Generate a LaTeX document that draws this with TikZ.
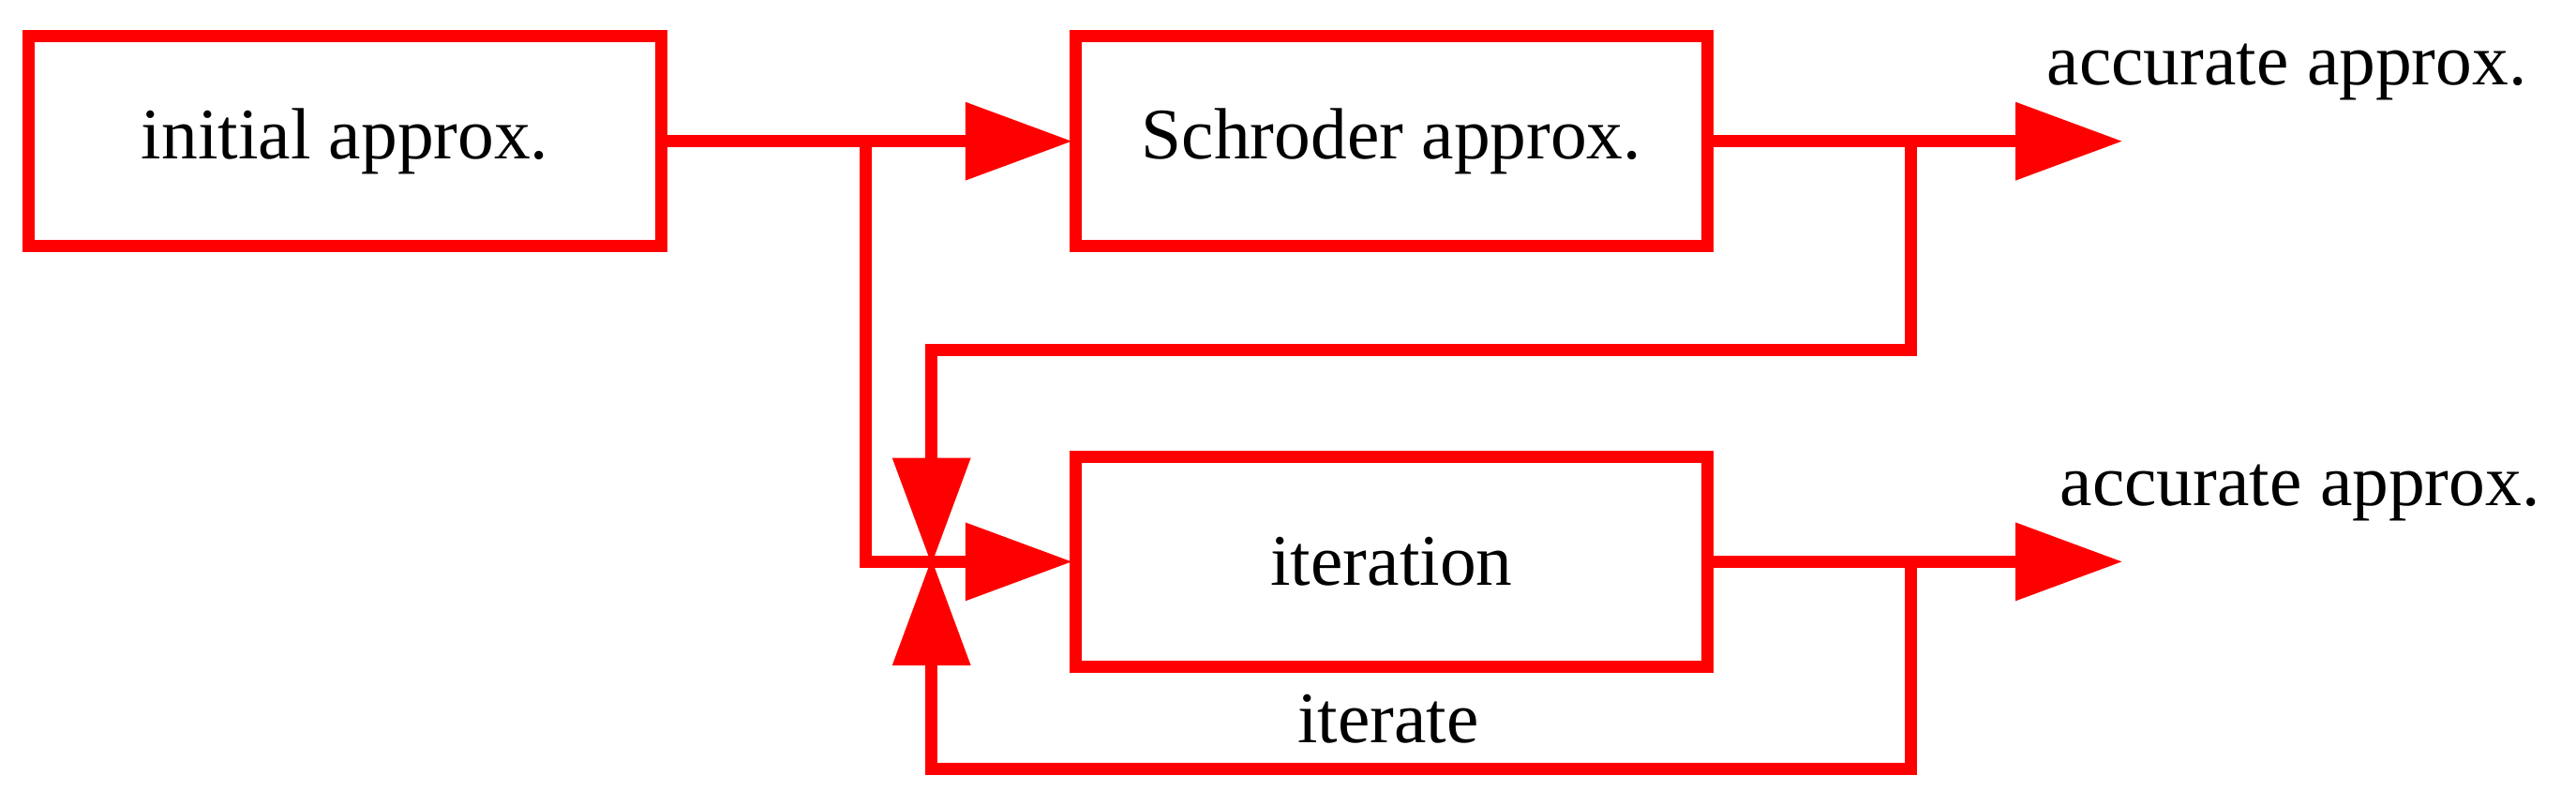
\documentclass[tikz,border=0pt]{standalone}
\usepackage{fontspec}
\setmainfont{Liberation Serif}
\usetikzlibrary{arrows.meta}
\begin{document}
\begin{tikzpicture}[x=0.0175cm,y=-0.0175cm,
  box/.style={draw=red,line width=0.13cm,minimum width=385*0.0175cm,minimum height=128*0.0175cm,inner sep=0pt,font=\fontsize{22}{26}\selectfont},
  ln/.style={draw=red,line width=0.13cm},
  arr/.style={ln,-{Triangle[length=1.14cm,width=0.8cm]},shorten >=-1pt},
  lbl/.style={font=\fontsize{22}{26}\selectfont}]
\useasboundingbox (0,0) rectangle (1568,490);
\node[box] (A) at (210,86) {initial approx.};
\node[box] (B) at (847,86) {Schroder approx.};
\node[box] (C) at (847,342) {iteration};
\coordinate (j1) at (527,86);
\coordinate (j2) at (1163,86);
\coordinate (j3) at (1163,342);
\coordinate (o1) at (1290,86);
\coordinate (o2) at (1290,342);
\coordinate (m) at (567,342);
\node[lbl] (t1) at (1392,44) {accurate approx.};
\node[lbl] (t2) at (1400,300) {accurate approx.};
\node[lbl] (t3) at (845,438) {iterate};
\draw[arr] (A.east) -- (B.west);
\draw[arr] (j1) -- (527,342) -- (C.west);
\draw[arr] (B.east) -- (o1);
\draw[arr] (C.east) -- (o2);
\draw[arr] (j2) -- (1163,213) -- (567,213) -- (m);
\draw[arr] (j3) -- (1163,468) -- (567,468) -- (m);
\end{tikzpicture}
\end{document}
